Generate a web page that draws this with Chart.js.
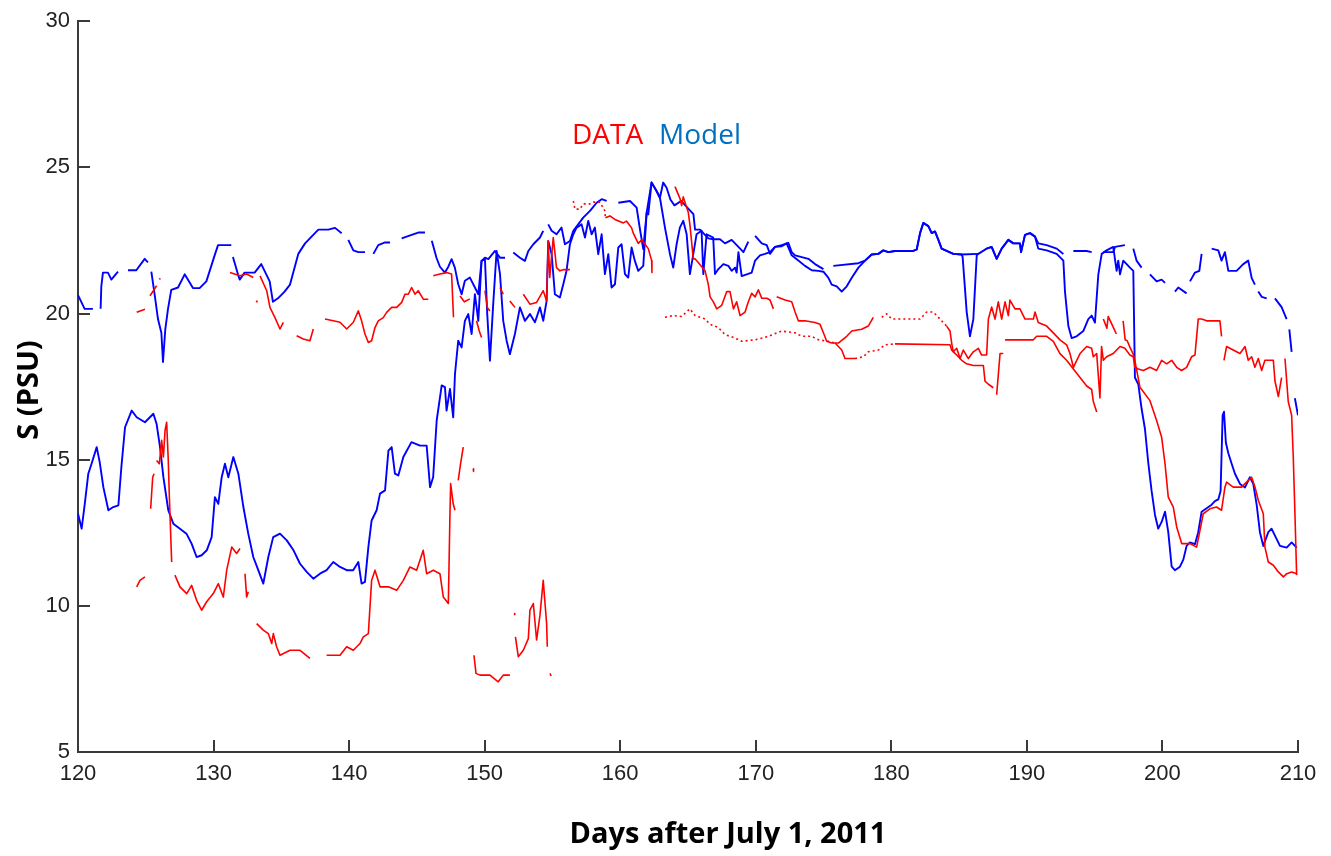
<!DOCTYPE html>
<html>
<head>
<meta charset="utf-8">
<script src="https://cdn.jsdelivr.net/npm/chart.js@4.4.1/dist/chart.umd.min.js"></script>
<style>
  html, body { margin: 0; padding: 0; background: #fff; }
  #wrap { width: 1331px; height: 856px; }
</style>
</head>
<body>
<div id="wrap"><canvas id="chart" width="1331" height="856"></canvas></div>
<script>
/* --------------- Model, upper layer (gaps where null) --------------- */
const modelUpperDays = [
  120.0, 120.49, 121.1, 121.4, 121.67, 121.72, 121.84, 122.21, 122.46, 122.95,
  123.3, 123.69, 124.3, 124.92, 125.16, 125.3, 125.41, 125.66, 125.9, 126.15,
  126.27, 126.44, 126.64, 126.88, 127.38, 127.87, 128.48, 128.97, 129.47, 130.08,
  130.33, 130.82, 131.31, 131.37, 131.43, 131.8, 131.93, 132.29, 133.03, 133.52,
  134.14, 134.38, 134.75, 135.24, 135.64, 136.25, 136.75, 137.48, 137.73, 138.47,
  138.96, 139.45, 139.7, 139.94, 140.31, 140.68, 141.17, 141.5, 141.79, 142.15,
  142.65, 143.02, 143.4, 143.88, 144.61, 145.1, 145.6, 145.85, 146.1, 146.45,
  146.7, 147.07, 147.32, 147.56, 147.8, 148.05, 148.3, 148.54, 148.91, 149.28,
  149.53, 149.77, 150.02, 150.27, 150.76, 151.13, 151.5, 151.8, 152.11, 152.6,
  152.97, 153.22, 153.59, 154.08, 154.32, 154.5, 154.69, 154.94, 155.3, 155.67,
  155.92, 156.29, 156.54, 156.9, 157.27, 157.77, 158.26, 158.63, 159.0, 159.4,
  159.86, 160.72, 161.21, 161.45, 161.7, 161.95, 162.31, 162.68, 162.93, 163.17,
  163.42, 163.7, 164.0, 164.5, 165.0, 165.4, 165.52, 165.89, 166.13, 166.5,
  166.87, 167.36, 167.73, 168.22, 168.72, 169.09, 169.45, 169.7, 169.95, 170.44,
  170.81, 171.05, 171.42, 171.91, 172.4, 172.65, 172.9, 173.39, 173.88, 174.37,
  174.99, 175.35, 175.72, 177.57, 178.06, 178.55, 179.04, 179.41, 179.78, 180.27,
  181.62, 181.87, 182.12, 182.36, 182.73, 182.98, 183.22, 183.47, 183.71, 184.08,
  184.57, 185.19, 186.42, 186.7, 187.03, 187.4, 187.77, 188.14, 188.63, 189.0,
  189.49, 189.57, 189.86, 190.23, 190.6, 190.84, 191.46, 192.2, 192.69, 193.0,
  193.43, 194.41, 194.78, 195.2, 195.64, 196.37, 196.5, 197.23, 197.5, 197.85,
  198.09, 198.46, 198.8, 199.08, 199.57, 199.94, 200.19, 200.5, 200.92, 201.17,
  201.78, 201.9, 202.03, 202.4, 202.72, 202.89, 203.2, 203.63, 204.12, 204.36,
  204.61, 204.86, 205.47, 205.96, 206.33, 206.58, 206.82, 206.95, 207.07, 207.32,
  207.69, 208.0, 208.3, 208.79, 209.16, 209.26, 209.36, 209.53, 209.65, 209.77,
  210.0
];
const modelUpperSal = [
  20.63, 20.16, 20.16, null, 20.16, 20.93, 21.4, 21.4, 21.16, 21.43,
  null, 21.48, 21.48, 21.87, 21.75, null, 21.43, 20.63, 19.81, 19.34,
  18.34, 19.46, 20.16, 20.81, 20.89, 21.34, 20.87, 20.87, 21.1, 21.99,
  22.34, 22.34, 22.34, null, 21.93, 21.34, 21.16, 21.4, 21.4, 21.69,
  21.1, 20.4, 20.52, 20.75, 20.99, 22.04, 22.4, 22.75, 22.87, 22.87,
  22.93, 22.75, null, 22.52, 22.16, 22.1, 22.1, null, 22.04, 22.34,
  22.43, 22.43, null, 22.57, 22.69, 22.77, 22.77, null, 22.49, 21.9,
  21.6, 21.4, 21.6, 21.86, 21.57, 21.0, 20.66, 21.12, 21.23, 20.89,
  20.66, 21.8, 21.91, 21.86, 22.14, 21.91, 21.91, null, 22.09, 21.91,
  21.8, 22.14, 22.37, 22.6, 22.83, null, 23.05, 22.83, 22.71, 22.94,
  22.37, 22.48, 22.83, 23.05, 23.28, 23.51, 23.79, 23.91, 23.85, null,
  23.79, 23.85, 23.62, 22.9, 22.2, 23.45, 24.48, 24.19, 23.96, 24.48,
  24.3, 23.9, 23.7, 23.85, 23.6, 23.4, 22.87, 22.87, 22.75, 22.57,
  22.54, 22.54, 22.4, 22.52, 22.28, 22.1, 22.46, null, 22.66, 22.4,
  22.34, 22.04, 22.28, 22.34, 22.42, 22.1, 21.99, 21.93, 21.87, 21.69,
  21.52, null, 21.63, 21.72, 21.81, 22.02, 22.04, 22.16, 22.1, 22.14,
  22.14, 22.19, 22.75, 23.1, 22.99, 22.75, 22.81, 22.52, 22.22, 22.14,
  22.04, 22.02, 22.04, null, 22.22, 22.28, 21.87, 22.22, 22.52, 22.4,
  22.4, 22.1, 22.69, 22.75, 22.63, 22.4, 22.34, 22.22, 22.04, null,
  22.14, 22.14, 22.1, null, 22.1, 22.1, 22.28, 22.34, null, 22.22,
  21.81, 21.57, null, 21.34, 21.1, 21.16, 21.05, null, 20.75, 20.89,
  20.69, null, 21.1, 21.4, 21.46, 22.04, null, 22.22, 22.16, 21.81,
  22.1, 21.46, 21.46, 21.69, 21.81, 21.22, 20.99, null, 20.75, 20.57,
  20.52, null, 20.52, 20.22, 19.81, null, 19.46, 18.69, null, 17.1,
  16.52
];

/* --------------- Model, lower layer --------------- */
const modelLowerDays = [
  120.0, 120.27, 120.5, 120.76, 121.0, 121.38, 121.6, 121.87, 122.24, 122.6,
  122.98, 123.2, 123.47, 123.96, 124.33, 124.94, 125.56, 125.8, 126.05, 126.3,
  126.66, 127.03, 127.52, 128.0, 128.38, 128.75, 129.12, 129.5, 129.86, 130.1,
  130.35, 130.6, 130.84, 131.09, 131.46, 131.83, 132.2, 132.56, 132.93, 133.3,
  133.67, 134.04, 134.4, 134.9, 135.4, 135.9, 136.38, 136.87, 137.36, 137.85,
  138.34, 138.83, 139.33, 139.82, 140.3, 140.68, 140.92, 141.17, 141.42, 141.66,
  142.03, 142.28, 142.65, 142.9, 143.14, 143.38, 143.63, 144.0, 144.6, 145.23,
  145.72, 145.97, 146.2, 146.46, 146.83, 147.07, 147.19, 147.44, 147.68, 147.81,
  148.05, 148.3, 148.54, 148.79, 149.04, 149.28, 149.53, 149.77, 150.02, 150.19,
  150.39, 150.63, 150.88, 151.13, 151.37, 151.62, 151.86, 152.23, 152.6, 152.97,
  153.34, 153.71, 154.08, 154.32, 154.57, 154.69, 154.94, 155.18, 155.55, 155.8,
  156.04, 156.29, 156.54, 156.78, 157.15, 157.4, 157.64, 157.89, 158.13, 158.38,
  158.63, 158.87, 159.12, 159.36, 159.61, 159.86, 160.1, 160.35, 160.59, 160.84,
  161.08, 161.33, 161.7, 161.95, 162.07, 162.31, 162.68, 162.93, 163.3, 163.67,
  163.91, 164.16, 164.4, 164.65, 164.9, 165.14, 165.39, 165.63, 166.0, 166.13,
  166.37, 166.86, 166.99, 167.24, 167.61, 167.98, 168.22, 168.47, 168.59, 168.72,
  168.96, 169.33, 169.7, 169.95, 170.31, 170.68, 171.05, 171.42, 171.91, 172.28,
  172.65, 173.14, 173.63, 174.13, 174.62, 174.99, 175.36, 175.6, 175.97, 176.34,
  176.71, 177.08, 177.57, 178.06, 178.55, 179.04, 179.41, 179.78, 180.27, 181.62,
  181.87, 182.12, 182.36, 182.73, 182.98, 183.22, 183.47, 183.71, 184.08, 184.57,
  185.19, 185.26, 185.56, 185.8, 186.05, 186.3, 186.42, 187.03, 187.4, 187.77,
  188.14, 188.63, 189.0, 189.49, 189.57, 189.86, 190.23, 190.6, 190.84, 191.46,
  192.2, 192.69, 192.81, 193.06, 193.3, 193.67, 194.16, 194.53, 194.78, 195.02,
  195.27, 195.52, 195.88, 196.37, 196.62, 196.74, 196.87, 197.11, 197.36, 197.6,
  197.85, 197.97, 198.22, 198.46, 198.71, 198.96, 199.2, 199.45, 199.69, 199.94,
  200.19, 200.43, 200.68, 200.92, 201.29, 201.54, 201.78, 202.03, 202.4, 202.64,
  202.89, 203.26, 203.63, 203.87, 204.12, 204.29, 204.44, 204.54, 204.68, 204.86,
  205.1, 205.35, 205.72, 206.09, 206.45, 206.7, 206.95, 207.19, 207.44, 207.81,
  208.05, 208.3, 208.67, 209.16, 209.53, 209.9
];
const modelLowerSal = [
  13.15, 12.64, 13.49, 14.52, 14.86, 15.43, 14.92, 14.06, 13.27, 13.38,
  13.44, 14.75, 16.11, 16.68, 16.45, 16.28, 16.57, 16.22, 15.43, 14.4,
  13.27, 12.81, 12.64, 12.47, 12.13, 11.67, 11.73, 11.9, 12.35, 13.72,
  13.49, 14.4, 14.86, 14.4, 15.09, 14.52, 13.38, 12.47, 11.67, 11.22,
  10.76, 11.67, 12.35, 12.47, 12.24, 11.9, 11.44, 11.16, 10.93, 11.1,
  11.22, 11.5, 11.33, 11.22, 11.22, 11.5, 10.76, 10.82, 12.01, 12.92,
  13.27, 13.84, 13.95, 15.31, 15.43, 14.52, 14.46, 15.09, 15.6, 15.48,
  15.48, 14.06, 14.4, 16.34, 17.54, 17.48, 16.68, 17.42, 16.45, 17.93,
  19.07, 18.84, 19.75, 19.98, 19.3, 20.66, 19.75, 21.8, 21.86, 19.98,
  18.39, 20.32, 22.14, 21.35, 19.75, 19.07, 18.61, 19.3, 20.21, 19.75,
  19.98, 19.7, 20.21, 19.75, 20.43, 22.48, 22.03, 20.66, 20.55, 21.0,
  21.46, 22.37, 22.71, 22.94, 23.05, 22.6, 23.17, 22.71, 22.94, 22.03,
  22.71, 21.35, 22.03, 20.89, 21.0, 22.26, 22.37, 21.35, 21.23, 22.26,
  21.8, 21.46, 21.63, 23.45, 23.39, 24.48, 24.19, 23.96, 22.94, 22.03,
  21.57, 22.37, 22.94, 23.17, 22.71, 21.35, 22.03, 22.71, 22.83, 21.35,
  22.71, 22.6, 21.35, 21.52, 21.69, 21.63, 21.46, 21.57, 21.4, 22.1,
  21.28, 21.34, 21.4, 21.81, 21.99, 22.04, 22.1, 22.28, 22.3, 22.4,
  21.99, 21.81, 21.63, 21.48, 21.46, 21.43, 21.22, 20.99, 20.93, 20.75,
  20.93, 21.22, 21.57, 21.81, 22.02, 22.04, 22.16, 22.1, 22.14, 22.14,
  22.19, 22.75, 23.1, 22.99, 22.75, 22.81, 22.52, 22.22, 22.14, 22.04,
  22.02, 21.93, 20.05, 19.22, 19.81, 21.99, 22.04, 22.22, 22.28, 21.87,
  22.22, 22.52, 22.4, 22.4, 22.1, 22.69, 22.75, 22.63, 22.22, 22.16,
  22.04, 21.81, 20.75, 19.57, 19.16, 19.22, 19.4, 19.81, 19.93, 19.69,
  21.34, 22.04, 22.16, 22.28, 21.46, 21.81, 21.34, 21.81, 21.69, 21.57,
  21.46, 17.81, 17.58, 16.75, 16.05, 14.87, 13.93, 13.11, 12.64, 12.87,
  13.22, 12.52, 11.34, 11.22, 11.34, 11.58, 12.05, 12.17, 12.11, 12.52,
  13.22, 13.34, 13.46, 13.58, 13.64, 13.93, 16.52, 16.64, 15.58, 15.22,
  14.87, 14.52, 14.17, 14.05, 14.4, 14.17, 13.46, 12.52, 12.05, 12.52,
  12.64, 12.4, 12.05, 11.99, 12.17, 11.99
];

/* --------------- Observed DATA, upper sensor --------------- */
const dataUpperDays = [
  124.33, 124.94, 125.1, 125.31, 125.56, 125.8, 125.92, 126.0, 126.08, 126.2,
  131.21, 131.95, 132.44, 132.93, 133.05, 133.14, 133.2, 133.3, 133.43, 133.92,
  134.16, 134.53, 134.9, 135.15, 135.6, 136.13, 136.62, 137.11, 137.36, 137.8,
  138.22, 138.83, 139.33, 139.82, 140.06, 140.31, 140.68, 140.92, 141.17, 141.42,
  141.66, 141.91, 142.15, 142.52, 142.77, 143.14, 143.51, 143.88, 144.12, 144.37,
  144.61, 144.86, 145.1, 145.47, 145.84, 146.0, 146.21, 146.7, 147.19, 147.56,
  147.7, 147.8, 148.18, 148.5, 148.91, 149.1, 149.4, 149.6, 149.77, 149.9,
  150.02, 150.2, 150.39, 150.7, 151.13, 151.37, 151.6, 151.86, 152.23, 152.5,
  152.85, 153.34, 153.83, 154.32, 154.57, 154.69, 154.8, 155.06, 155.3, 155.55,
  155.8, 156.29, 156.4, 156.54, 156.66, 157.03, 157.27, 157.77, 158.01, 158.5,
  158.87, 158.9, 159.24, 159.61, 160.23, 160.47, 160.84, 160.96, 161.33, 161.58,
  162.07, 162.32, 162.34, 162.5, 164.04, 164.41, 164.53, 164.65, 165.02, 165.14,
  165.39, 165.52, 166.26, 166.5, 166.63, 166.87, 167.12, 167.49, 167.86, 168.1,
  168.35, 168.59, 168.84, 169.21, 169.45, 169.7, 169.95, 170.19, 170.44, 170.81,
  171.05, 171.3, 171.42, 171.54, 172.16, 172.65, 172.9, 173.14, 173.63, 174.37,
  174.74, 174.99, 175.23, 175.6, 176.09, 176.71, 177.08, 177.81, 178.3, 178.67,
  179.0, 179.29, 179.66, 180.03, 182.12, 182.61, 183.1, 183.59, 184.08, 184.33,
  184.45, 184.57, 184.82, 185.07, 185.31, 185.68, 186.05, 186.42, 186.66, 187.03,
  187.16, 187.4, 187.65, 187.89, 188.14, 188.39, 188.63, 188.75, 189.12, 189.49,
  189.86, 190.48, 190.6, 190.84, 191.46, 191.95, 192.44, 192.93, 193.18, 193.43,
  193.92, 194.41, 194.78, 194.9, 195.15, 195.39, 195.51, 195.64, 195.88, 196.37,
  196.87, 197.23, 197.6, 197.85, 197.97, 198.22, 198.59, 199.08, 199.57, 199.94,
  200.31, 200.68, 201.05, 201.41, 201.78, 202.15, 202.4, 202.64, 202.89, 203.26,
  203.75, 204.24, 204.36, 204.45, 204.54, 204.73, 205.22, 205.72, 206.09, 206.33,
  206.58, 206.82, 207.07, 207.32, 207.56, 207.93, 208.18, 208.3, 208.55, 208.79,
  208.9, 209.04, 209.28, 209.53, 209.65, 209.77, 209.9
];
const dataUpperSal = [
  20.04, 20.15, null, 20.61, 20.78, 20.95, null, 21.17, 21.2, null,
  21.4, 21.29, 21.35, 21.23, null, 20.43, 20.4, null, 21.29, 20.78,
  20.21, 19.86, 19.47, 19.7, null, 19.24, 19.13, 19.07, 19.47, null,
  19.81, 19.75, 19.7, 19.47, 19.58, 19.7, 20.09, 19.75, 19.3, 19.01,
  19.07, 19.52, 19.75, 19.86, 20.04, 20.21, 20.21, 20.38, 20.66, 20.66,
  20.89, 20.66, 20.78, 20.49, 20.49, null, 21.29, 21.35, 21.4, 21.35,
  19.87, null, 20.6, 20.4, 20.5, null, 19.75, 19.4, 19.18, null,
  20.78, 20.2, 20.09, null, 20.89, 20.66, null, 20.43, 20.21, null,
  20.66, 20.32, 20.38, 20.78, 20.43, 22.48, 21.23, 22.6, 21.57, 21.46,
  21.5, 21.5, null, 23.85, 23.57, 23.57, 23.75, 23.75, 23.81, 23.81,
  23.51, 23.28, 23.34, 23.22, 23.1, 23.16, 22.93, 22.75, 22.4, 22.52,
  22.22, 21.81, 21.4, null, 24.34, 23.93, 23.69, 23.99, 23.46, 23.04,
  21.87, 21.87, 21.46, 20.99, 20.57, 20.4, 20.16, 20.28, 20.75, 20.75,
  20.16, 20.4, 19.93, 20.05, 20.4, 20.69, 20.57, 20.81, 20.52, 20.52,
  20.46, 20.16, null, 20.57, 20.46, 20.4, 20.05, 19.75, 19.75, 19.69,
  19.63, 19.34, 19.05, 18.99, 18.99, 19.22, 19.4, 19.46, 19.57, 19.87,
  null, 19.87, 19.99, 19.81, 19.81, 20.05, 20.05, 19.81, 19.57, 19.4,
  18.99, 18.69, 18.81, 18.46, 18.75, 18.46, 18.69, 18.81, 18.58, 18.58,
  19.81, 20.22, 19.81, 20.4, 19.81, 20.4, 19.93, 20.46, 20.16, 20.16,
  19.81, 19.81, 20.05, 19.69, 19.57, 19.34, 19.1, 18.93, 18.63, 18.16,
  18.63, 18.87, 18.81, 18.52, 18.63, 17.11, 18.87, 18.4, 18.52, 18.63,
  18.87, 18.81, 18.58, 18.52, 18.16, 18.1, 18.05, 18.16, 18.05, 18.4,
  18.28, 18.4, 18.16, 18.05, 18.16, 18.52, 18.58, 19.81, 19.81, 19.75,
  19.75, 19.75, 19.22, null, 18.4, 18.87, 18.75, 18.63, 18.87, 18.4,
  18.52, 18.16, 18.46, 18.05, 18.4, 18.4, 18.4, 17.69, 17.16, 17.81,
  null, 18.46, 16.99, 16.52, 15.11, 13.22, 11.05
];

/* --------------- Observed DATA, lower sensor --------------- */
const dataLowerDays = [
  124.33, 124.57, 124.94, 125.1, 125.36, 125.51, 125.61, 125.7, 125.8, 126.0,
  126.17, 126.3, 126.42, 126.54, 126.66, 126.74, 126.91, 127.0, 127.15, 127.52,
  128.02, 128.38, 128.75, 129.12, 129.49, 129.98, 130.35, 130.72, 130.97, 131.34,
  131.7, 131.95, 132.1, 132.32, 132.44, 132.56, 132.9, 133.18, 133.67, 134.04,
  134.29, 134.41, 134.65, 134.9, 135.64, 136.38, 137.11, 137.7, 138.34, 139.33,
  139.82, 140.31, 140.8, 141.05, 141.42, 141.66, 141.91, 142.28, 142.9, 143.51,
  144.0, 144.49, 144.98, 145.47, 145.72, 146.21, 146.7, 146.95, 147.32, 147.44,
  147.49, 147.68, 147.81, 147.95, 148.05, 148.22, 148.42, 148.8, 149.16, 149.18,
  149.19, 149.21, 149.36, 149.65, 150.39, 151.0, 151.37, 151.86, 152.0, 152.18,
  152.22, 152.24, 152.27, 152.48, 152.85, 153.22, 153.34, 153.59, 153.83, 154.08,
  154.32, 154.57, 154.62, 154.7, 154.82, 154.9, 155.0, 163.3, 163.91, 164.53,
  165.14, 165.52, 166.26, 166.63, 167.24, 167.73, 168.47, 168.96, 169.95, 170.93,
  171.91, 172.9, 173.39, 174.13, 174.62, 175.36, 175.85, 176.34, 176.58, 177.32,
  177.94, 178.3, 179.04, 179.54, 180.27, 184.33, 184.45, 184.82, 185.19, 185.56,
  186.05, 186.79, 186.91, 187.16, 187.52, 187.65, 187.77, 188.02, 188.26, 188.33,
  188.39, 190.48, 190.72, 191.46, 191.95, 192.44, 192.93, 193.43, 193.92, 194.41,
  194.78, 194.9, 195.15, 195.4, 195.64, 195.9, 196.0, 196.4, 196.6, 196.85,
  197.1, 197.25, 197.4, 197.6, 197.85, 198.0, 198.34, 199.08, 199.57, 199.94,
  200.19, 200.43, 200.8, 201.05, 201.42, 202.03, 202.52, 202.77, 203.01, 203.5,
  203.99, 204.36, 204.61, 204.73, 205.22, 205.84, 206.33, 206.58, 206.83, 207.07,
  207.44, 207.56, 207.81, 208.18, 208.55, 208.92, 209.17, 209.53, 209.9
];
const dataLowerSal = [
  10.65, 10.87, 10.99, null, 13.32, 14.4, 14.52, null, 14.97, 14.86,
  15.66, 15.09, 15.99, 16.28, 14.97, 13.72, 11.5, null, 11.05, 10.65,
  10.42, 10.7, 10.19, 9.85, 10.14, 10.42, 10.76, 10.3, 11.22, 12.01,
  11.79, 11.96, null, 11.1, 10.3, 10.48, null, 9.39, 9.17, 9.05,
  8.71, 9.05, 8.6, 8.31, 8.48, 8.48, 8.2, null, 8.31, 8.31,
  8.6, 8.48, 8.71, 8.94, 9.05, 10.87, 11.22, 10.65, 10.65, 10.53,
  10.87, 11.33, 11.22, 11.9, 11.1, 11.22, 11.1, 10.3, 10.08, 13.15,
  14.18, 13.49, 13.27, null, 14.29, 14.86, 15.43, null, 14.69, 14.6,
  null, 8.31, 7.69, 7.63, 7.63, 7.4, 7.63, 7.63, null, 9.74,
  9.7, null, 8.94, 8.26, 8.48, 8.88, 9.85, 10.08, 8.83, 9.68,
  10.87, 9.39, 8.6, null, 7.69, 7.6, null, 19.87, 19.93, 19.9,
  20.16, 19.93, 19.81, 19.63, 19.52, 19.28, 19.16, 19.05, 19.1, 19.22,
  19.4, 19.34, 19.22, 19.22, 19.1, 19.05, 18.99, 18.75, 18.46, 18.46,
  18.52, 18.69, 18.75, 18.93, 18.96, 18.93, 18.75, 18.58, 18.4, 18.28,
  18.22, 18.22, 17.69, 17.58, 17.46, null, 17.22, 18.63, 18.63, null,
  19.1, 19.1, 19.22, 19.22, 19.05, 18.63, 18.4, 18.1, 17.81, 17.52,
  17.4, 16.99, 16.63, null, 19.81, 19.5, 19.9, 19.5, 19.3, null,
  19.75, 19.1, 19.07, 18.85, 18.6, 18.3, 17.48, 17.02, 16.34, 15.77,
  14.86, 13.72, 13.38, 12.7, 12.13, 12.13, 12.01, 12.58, 13.15, 13.32,
  13.38, 13.27, 14.06, 14.23, 14.06, 14.06, 14.29, 14.4, 14.06, 13.61,
  13.15, 12.01, 11.5, 11.39, 11.16, 10.99, 11.1, 11.16, 11.1
];

/* --------------- Axis ticks --------------- */
const xTicks = [120, 130, 140, 150, 160, 170, 180, 190, 200, 210];
const yTicks = [5, 10, 15, 20, 25, 30];

/* stretches where the logged data are sparse and show as dotted */
const dataUpperSparse = [[156.5, 159.0], [179.2, 184.1]];
const dataLowerSparse = [[163.2, 176.3], [176.6, 184.3]];

const axisColor = "#3a3a3a";
const tickFont = { family: "'Liberation Sans', Arial, sans-serif", size: 22 };

const toPoints = (days, sal) => days.map((d, i) => ({ x: d, y: sal[i] === undefined ? null : sal[i] }));

const dottedIn = (ranges) => (ctx) => {
  const x0 = ctx.p0.parsed.x, x1 = ctx.p1.parsed.x;
  return ranges.some(([a, b]) => x0 >= a && x1 <= b) ? [2, 3] : undefined;
};

/* --------------- Inward tick marks + text --------------- */
const decorations = {
  id: "decorations",
  afterDraw(chart) {
    const { ctx, chartArea, scales } = chart;
    ctx.save();
    ctx.strokeStyle = axisColor;
    ctx.lineWidth = 2;
    ctx.beginPath();
    xTicks.forEach((v) => {
      const px = Math.round(scales.x.getPixelForValue(v));
      ctx.moveTo(px, chartArea.bottom);
      ctx.lineTo(px, chartArea.bottom - 12);
    });
    yTicks.forEach((v) => {
      const py = Math.round(scales.y.getPixelForValue(v));
      ctx.moveTo(chartArea.left, py);
      ctx.lineTo(chartArea.left + 12, py);
    });
    ctx.stroke();

    // DATA / Model label
    ctx.font = "28px 'Open Sans', 'Noto Sans', sans-serif";
    ctx.textBaseline = "alphabetic";
    ctx.textAlign = "left";
    ctx.fillStyle = "#ff0000";
    ctx.fillText("DATA", 572, 144);
    ctx.fillStyle = "#0070c0";
    ctx.fillText("Model", 659, 144);

    // axis titles
    ctx.fillStyle = "#000000";
    ctx.font = "bold 29px 'Open Sans', 'Noto Sans', sans-serif";
    ctx.textAlign = "center";
    ctx.fillText("Days after July 1, 2011", 728, 843);

    ctx.translate(38, 390);
    ctx.rotate(-Math.PI / 2);
    ctx.fillText("S (PSU)", 0, 0);
    ctx.restore();
  }
};

new Chart(document.getElementById("chart"), {
  type: "line",
  plugins: [decorations],
  data: {
    datasets: [
      { label: "DATA upper", data: toPoints(dataUpperDays, dataUpperSal), borderColor: "#ff0000", borderWidth: 1.6,
        segment: { borderDash: dottedIn(dataUpperSparse) } },
      { label: "DATA lower", data: toPoints(dataLowerDays, dataLowerSal), borderColor: "#ff0000", borderWidth: 1.6,
        segment: { borderDash: dottedIn(dataLowerSparse) } },
      { label: "Model upper", data: toPoints(modelUpperDays, modelUpperSal), borderColor: "#0000ff", borderWidth: 1.9 },
      { label: "Model lower", data: toPoints(modelLowerDays, modelLowerSal), borderColor: "#0000ff", borderWidth: 1.9 }
    ]
  },
  options: {
    responsive: false,
    devicePixelRatio: 1,
    animation: false,
    spanGaps: false,
    elements: {
      point: { radius: 0, hoverRadius: 0 },
      line: { tension: 0, fill: false, borderJoinStyle: "round", borderCapStyle: "butt" }
    },
    layout: { padding: { top: 21, right: 33, left: 0, bottom: 0 } },
    plugins: { legend: { display: false }, tooltip: { enabled: false } },
    scales: {
      x: {
        type: "linear",
        min: 120,
        max: 210,
        afterFit: (s) => { s.height = 104; },
        afterBuildTicks: (s) => { s.ticks = xTicks.map((v) => ({ value: v })); },
        grid: { display: false, drawTicks: false },
        border: { display: true, color: axisColor, width: 2 },
        ticks: { color: "#222", font: tickFont, padding: 9, maxRotation: 0 }
      },
      y: {
        min: 5,
        max: 30,
        afterFit: (s) => { s.width = 78; },
        afterBuildTicks: (s) => { s.ticks = yTicks.map((v) => ({ value: v })); },
        grid: { display: false, drawTicks: false },
        border: { display: true, color: axisColor, width: 2 },
        ticks: { color: "#222", font: tickFont, padding: 8 }
      }
    }
  }
});
</script>
</body>
</html>
